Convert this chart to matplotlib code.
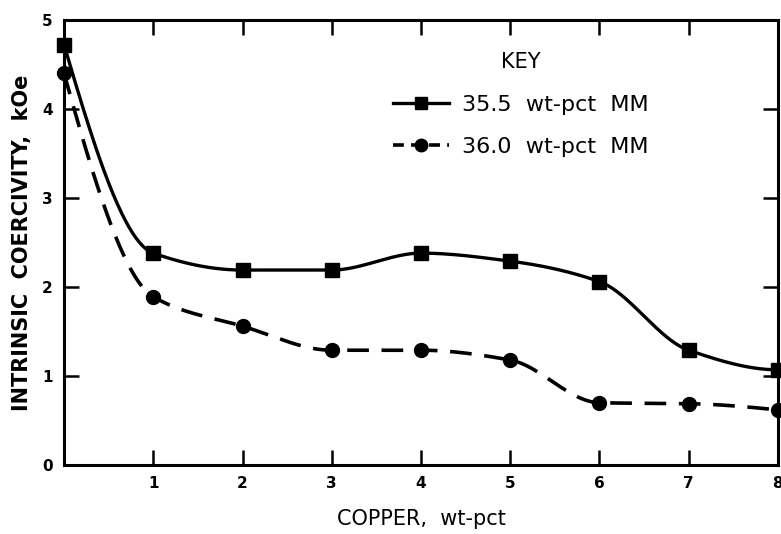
import numpy as np
import matplotlib
matplotlib.use("Agg")
import matplotlib.pyplot as plt
from matplotlib.lines import Line2D

# Copper content, wt-pct
copper = [0, 1, 2, 3, 4, 5, 6, 7, 8]
# Intrinsic coercivity, kOe
hci_355 = [4.72, 2.38, 2.19, 2.19, 2.38, 2.29, 2.06, 1.29, 1.07]
hci_360 = [4.40, 1.89, 1.56, 1.29, 1.29, 1.18, 0.70, 0.69, 0.62]
label_355 = "35.5  wt-pct  MM"
label_360 = "36.0  wt-pct  MM"
x_ticks = [1, 2, 3, 4, 5, 6, 7, 8]
y_ticks = [0, 1, 2, 3, 4, 5]


def smooth(x, y, n=40):
    """Monotone piecewise-cubic (PCHIP) curve through the points."""
    x = np.asarray(x, float)
    y = np.asarray(y, float)
    h = np.diff(x)
    d = np.diff(y) / h
    m = np.zeros_like(y)
    for k in range(1, len(x) - 1):
        if d[k - 1] * d[k] <= 0:
            m[k] = 0.0
        else:
            w1 = 2 * h[k] + h[k - 1]
            w2 = h[k] + 2 * h[k - 1]
            m[k] = (w1 + w2) / (w1 / d[k - 1] + w2 / d[k])

    def end(h0, h1, d0, d1):
        s = ((2 * h0 + h1) * d0 - h0 * d1) / (h0 + h1)
        if np.sign(s) != np.sign(d0):
            s = 0.0
        elif np.sign(d0) != np.sign(d1) and abs(s) > abs(3 * d0):
            s = 3 * d0
        return s

    m[0] = end(h[0], h[1], d[0], d[1])
    m[-1] = end(h[-1], h[-2], d[-1], d[-2])
    xs, ys = [], []
    for i in range(len(x) - 1):
        t = np.linspace(0, 1, n, endpoint=False)
        h00 = 2 * t**3 - 3 * t**2 + 1
        h10 = t**3 - 2 * t**2 + t
        h01 = -2 * t**3 + 3 * t**2
        h11 = t**3 - t**2
        xs.append(x[i] + t * h[i])
        ys.append(h00 * y[i] + h10 * h[i] * m[i] + h01 * y[i + 1] + h11 * h[i] * m[i + 1])
    xs.append([x[-1]])
    ys.append([y[-1]])
    return np.concatenate(xs), np.concatenate(ys)


fig = plt.figure(figsize=(7.81, 5.34), dpi=100)
ax = fig.add_axes([0.082, 0.129, 0.914, 0.834])

sx, sy = smooth(copper, hci_355)
ax.plot(sx, sy, color="black", lw=2.4, solid_capstyle="round")
ax.plot(copper, hci_355, ls="none", marker="s", ms=10, color="black", clip_on=False)

dx, dy = smooth(copper, hci_360)
ax.plot(dx, dy, color="black", lw=2.6, dashes=(6, 3.5))
ax.plot(copper, hci_360, ls="none", marker="o", ms=10, color="black", clip_on=False)

ax.set_xlim(0, 8)
ax.set_ylim(0, 5)
ax.set_xticks(x_ticks)
ax.set_yticks(y_ticks)
ax.tick_params(direction="in", length=11, width=1.8, top=True, right=True,
               labelsize=11, pad=8)
for lab in ax.get_xticklabels() + ax.get_yticklabels():
    lab.set_fontweight("bold")
for s in ax.spines.values():
    s.set_linewidth(2.2)

ax.set_xlabel("COPPER,  wt-pct", fontsize=15, labelpad=13)
ax.set_ylabel("INTRINSIC  COERCIVITY,  kOe", fontsize=15, fontweight="bold",
              labelpad=7)

handles = [
    Line2D([], [], color="black", lw=2.4, marker="s", ms=9),
    Line2D([], [], color="black", lw=2.6, marker="o", ms=9, dashes=(3, 2)),
]
ax.legend(handles, [label_355, label_360], frameon=False, fontsize=16,
          loc="upper left", bbox_to_anchor=(0.461, 0.832), borderpad=0,
          borderaxespad=0, handlelength=2.5, handletextpad=0.6,
          labelspacing=1.0)
ax.text(5.12, 4.53, "KEY", fontsize=15, ha="center", va="center")

fig.savefig("out.png", dpi=100)
